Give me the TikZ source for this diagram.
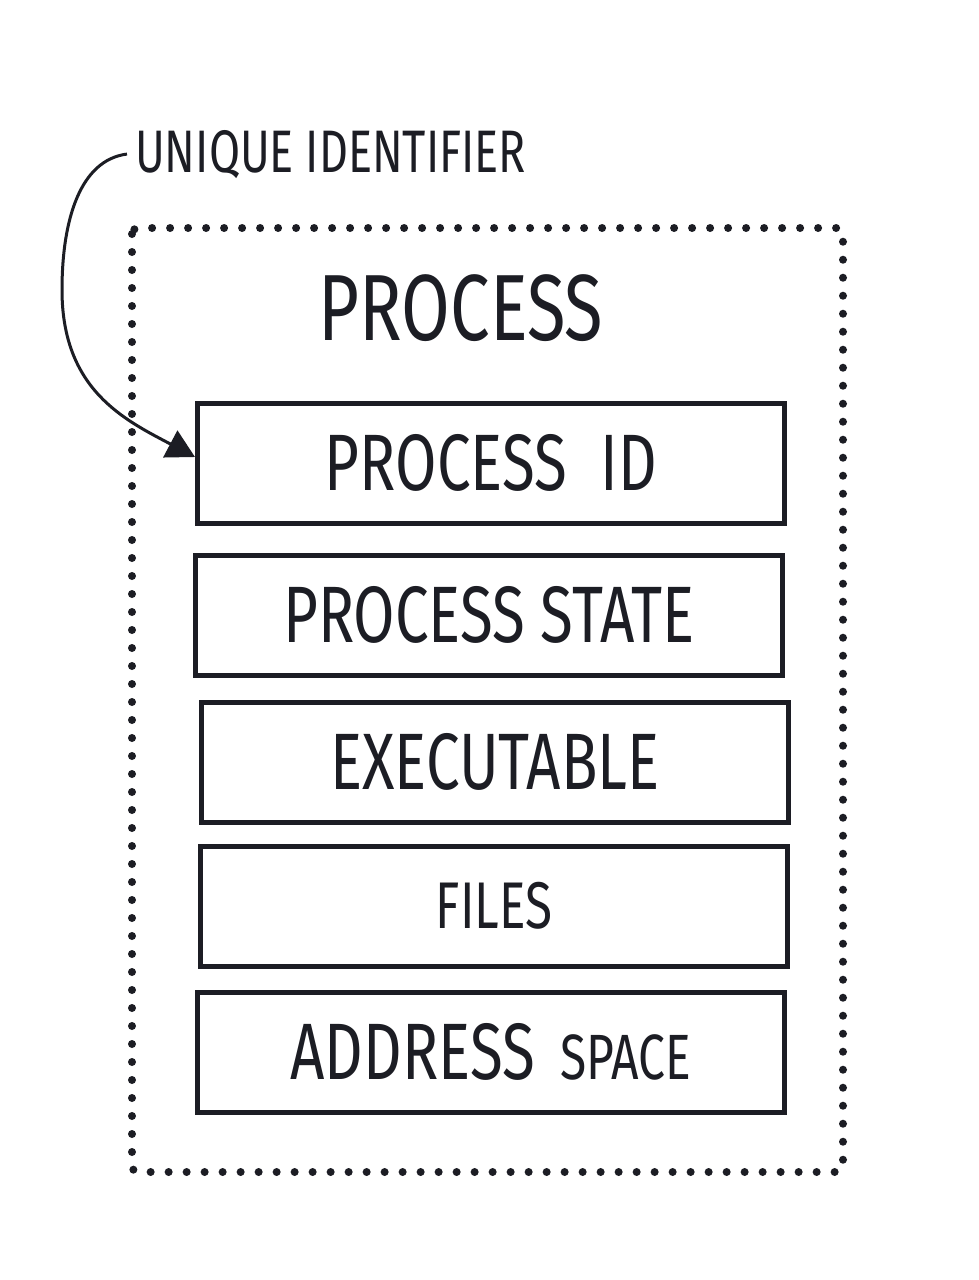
\documentclass[tikz,border=0pt]{standalone}
\usepackage{fontspec}
\setmainfont{Fira Sans}[FakeStretch=0.75]
\usetikzlibrary{arrows.meta}
\definecolor{ink}{RGB}{28,29,36}

\begin{document}
\begin{tikzpicture}[x=1pt, y=-1pt,
  field/.style={draw=ink, line width=5pt, minimum width=587pt, minimum height=120pt,
    inner sep=0pt, text=ink, font=\fontsize{80}{80}\selectfont},
  dotframe/.style={draw=ink, line width=8pt, line cap=round,
    dash pattern=on 0pt off 18pt, rounded corners=6pt}]

\useasboundingbox[fill=white] (0,0) rectangle (979,1280);

%Draw dotted outline
\draw[dotframe] (132,228) rectangle (843,1172);

%Draw title and label
\node[text=ink, font=\fontsize{94}{94}\selectfont] (title) at (461,308) {PROCESS};
\node[text=ink, anchor=base west, inner sep=8pt, font=\fontsize{60}{60}\selectfont]
  (uid) at (127,172) {UNIQUE IDENTIFIER};

%Draw fields
\node[field] (pid) at (491,463) {PROCESS\hspace{34pt}ID\hspace{36pt}};
\node[field] (pstate) at (489,615) {PROCESS STATE};
\node[field] (exe) at (495,762) {EXECUTABLE};
\node[field, font=\fontsize{66}{66}\selectfont] (files) at (494,906) {FILES\hspace{24pt}};
\node[field] (addr) at (491,1052)
  {ADDRESS\hspace{26pt}{\fontsize{64}{64}\selectfont SPACE}};

%Draw arrow
\draw[ink, line width=3pt, -{Triangle[length=28pt,width=30pt]}]
  (uid.west) .. controls (80,160) and (62,220) .. (62,290)
  .. controls (62,390) and (125,420) .. ([yshift=6pt]pid.west);

\end{tikzpicture}
\end{document}
